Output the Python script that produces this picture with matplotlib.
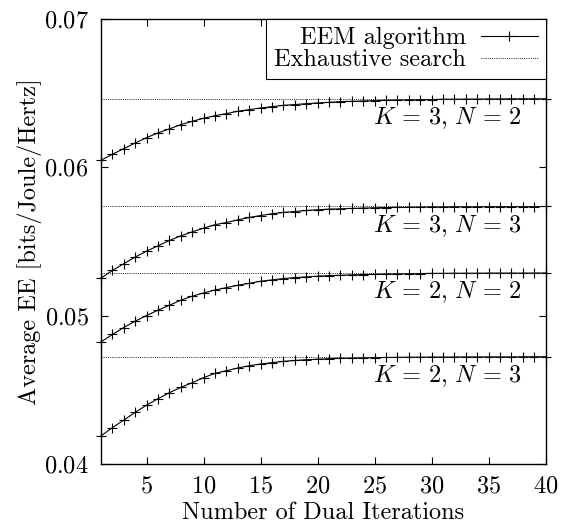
import numpy as np
import matplotlib
matplotlib.use("Agg")
import matplotlib.pyplot as plt

plt.rcParams['font.family'] = ['cmr10', 'DejaVu Serif']
plt.rcParams['mathtext.fontset'] = 'cm'
plt.rcParams['axes.formatter.use_mathtext'] = True
plt.rcParams['font.size'] = 17.5

# data
iterations = np.arange(1, 41)
ee_k3_n2 = [0.06048, 0.06088, 0.06126, 0.06164, 0.06200, 0.06232, 0.06259, 0.06288,
            0.06310, 0.06331, 0.06348, 0.06362, 0.06378, 0.06389, 0.06400, 0.06409,
            0.06418, 0.06423, 0.06429, 0.06434, 0.06438, 0.06443, 0.06445, 0.06447,
            0.06450, 0.06452, 0.06454, 0.06455, 0.06456, 0.06457, 0.06459, 0.06459,
            0.06460, 0.06460, 0.06461, 0.06461, 0.06462, 0.06462, 0.06462, 0.06462]
ee_k3_n3 = [0.05253, 0.05305, 0.05350, 0.05395, 0.05435, 0.05471, 0.05507, 0.05538,
            0.05565, 0.05590, 0.05613, 0.05628, 0.05646, 0.05662, 0.05675, 0.05687,
            0.05696, 0.05702, 0.05709, 0.05714, 0.05718, 0.05720, 0.05723, 0.05725,
            0.05727, 0.05729, 0.05730, 0.05731, 0.05732, 0.05733, 0.05733, 0.05734,
            0.05734, 0.05734, 0.05735, 0.05735, 0.05735, 0.05735, 0.05735, 0.05736]
ee_k2_n2 = [0.04823, 0.04873, 0.04920, 0.04963, 0.05001, 0.05037, 0.05070, 0.05104,
            0.05131, 0.05153, 0.05173, 0.05189, 0.05205, 0.05218, 0.05232, 0.05241,
            0.05250, 0.05257, 0.05261, 0.05266, 0.05270, 0.05272, 0.05275, 0.05277,
            0.05279, 0.05281, 0.05282, 0.05283, 0.05284, 0.05285, 0.05285, 0.05286,
            0.05286, 0.05286, 0.05287, 0.05287, 0.05287, 0.05287, 0.05287, 0.05288]
ee_k2_n3 = [0.04189, 0.04245, 0.04296, 0.04348, 0.04397, 0.04440, 0.04481, 0.04516,
            0.04548, 0.04582, 0.04611, 0.04629, 0.04647, 0.04662, 0.04674, 0.04683,
            0.04692, 0.04698, 0.04703, 0.04706, 0.04710, 0.04712, 0.04714, 0.04716,
            0.04717, 0.04718, 0.04719, 0.04720, 0.04720, 0.04721, 0.04721, 0.04721,
            0.04722, 0.04722, 0.04722, 0.04722, 0.04722, 0.04723, 0.04723, 0.04723]
exhaustive = [0.06463, 0.05736, 0.05288, 0.04723]
case_labels = [r'$K\,=\,3,\,N\,=\,2$', r'$K\,=\,3,\,N\,=\,3$',
               r'$K\,=\,2,\,N\,=\,2$', r'$K\,=\,2,\,N\,=\,3$']
curves = [ee_k3_n2, ee_k3_n3, ee_k2_n2, ee_k2_n3]

fig = plt.figure(figsize=(5.68, 5.26), dpi=100)
ax = fig.add_axes([0.1778, 0.1179, 0.7829, 0.8460])

for i, (ee, best, lab) in enumerate(zip(curves, exhaustive, case_labels)):
    ax.plot(iterations, ee, color='black', lw=0.8, marker='+', ms=7.5, mew=0.8,
            clip_on=False, label='EEM algorithm' if i == 0 else None)
    ax.plot([iterations[0], iterations[-1]], [best, best], color='#222222', lw=0.7,
            ls=(0, (1, 1.2)), label='Exhaustive search' if i == 0 else None)
    ax.annotate(lab, xy=(37.9, best), xytext=(0, -14), textcoords='offset points',
                ha='right', va='center', fontsize=17.5)

ax.set_xlim(1, 40)
ax.set_ylim(0.04, 0.07)
ax.set_xticks([5, 10, 15, 20, 25, 30, 35, 40])
ax.set_yticks([0.04, 0.05, 0.06, 0.07])
ax.tick_params(direction='in', top=True, right=True, length=5, width=0.8, pad=9, labelsize=17.5)
ax.tick_params(axis='x', pad=8)
for s in ax.spines.values():
    s.set_linewidth(1.0)

ax.set_xlabel('Number of Dual Iterations', fontsize=17.5, labelpad=3)
ax.set_ylabel('Average EE [bits/Joule/Hertz]', fontsize=17.5, labelpad=1)

leg = ax.legend(loc='upper right', markerfirst=False, numpoints=1, fancybox=False,
                framealpha=1, edgecolor='black', borderaxespad=0, handlelength=2.35,
                labelspacing=0.0, borderpad=0.33, handletextpad=0.6, fontsize=17.5)
leg.get_frame().set_linewidth(0.8)

fig.savefig('out.png', dpi=100)
